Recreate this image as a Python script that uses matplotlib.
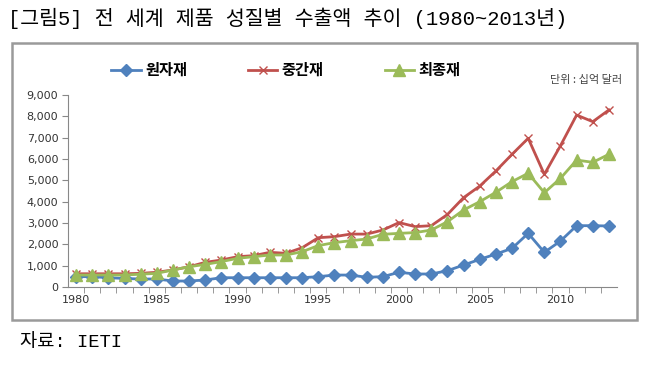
import matplotlib
matplotlib.use("Agg")
import matplotlib.pyplot as plt
from matplotlib.patches import Rectangle

plt.rcParams['font.family'] = ['Noto Sans CJK KR', 'DejaVu Sans']

# Data (십억 달러)
years = list(range(1980, 2014))
raw = [485, 485, 435, 400, 375, 375, 280, 280, 330, 435, 435, 435, 435, 435, 435, 485, 560,
       560, 455, 485, 690, 610, 610, 765, 1030, 1295, 1545, 1810, 2515, 1625, 2155, 2875, 2875, 2860]
inter = [620, 620, 620, 620, 640, 690, 800, 950, 1155, 1265, 1420, 1470, 1625, 1580, 1840, 2310, 2360,
         2480, 2480, 2670, 3020, 2830, 2875, 3400, 4190, 4730, 5440, 6220, 6970, 5280, 6625, 8060, 7750, 8300]
final = [560, 560, 560, 560, 600, 640, 800, 950, 1060, 1190, 1345, 1420, 1500, 1500, 1655, 1940, 2080,
         2170, 2250, 2470, 2515, 2550, 2670, 3060, 3610, 4000, 4440, 4940, 5330, 4420, 5095, 5950, 5845, 6220]
labels = ["원자재", "중간재", "최종재"]
yticks = list(range(0, 9001, 1000))
xlabels = [1980, 1985, 1990, 1995, 2000, 2005, 2010]

fig = plt.figure(figsize=(6.51, 3.65), dpi=100)

# outer frame
fig.patches.append(Rectangle((12 / 651, 1 - 320 / 365), 625 / 651, 277 / 365,
                             transform=fig.transFigure, fill=False, edgecolor="#9a9a9a", linewidth=1.8))

ax = fig.add_axes([68 / 651, 1 - 287 / 365, 549 / 651, 192 / 365])
ax.plot(years, raw, color="#4F81BD", marker="D", markersize=6, linewidth=2, label=labels[0])
ax.plot(years, inter, color="#C0504D", marker="x", markersize=6, markeredgewidth=1, linewidth=2, label=labels[1])
ax.plot(years, final, color="#9BBB59", marker="^", markersize=8, linewidth=2, label=labels[2])

ax.set_xlim(1979.5, 2013.5)
ax.set_ylim(0, 9000)
ax.set_yticks(yticks)
ax.set_yticklabels([f"{v:,}" for v in yticks], fontsize=8, family=["DejaVu Sans"], color="#333333")
ax.set_xticks(xlabels)
ax.set_xticklabels([str(v) for v in xlabels], fontsize=8, family=["DejaVu Sans"], color="#333333")
ax.set_xticks([y + 0.5 for y in years[:-1]], minor=True)
ax.tick_params(axis="x", which="major", length=0, pad=6)
ax.tick_params(axis="x", which="minor", length=4, color="#888888")
ax.tick_params(axis="y", length=4, color="#888888", pad=3)
for s in ["top", "right"]:
    ax.spines[s].set_visible(False)
ax.spines["left"].set_color("#888888")
ax.spines["bottom"].set_color("#888888")

fig.legend(loc="center", bbox_to_anchor=(286 / 651, 1 - 70 / 365), ncol=3, frameon=False,
           prop={"size": 11, "weight": "bold"}, handlelength=1.9, handletextpad=0.3, columnspacing=4.0)

title_font = ["Liberation Mono", "Noto Sans CJK KR"]
fig.text(8 / 651, 1 - 18 / 365, "[그림5] 전 세계 제품 성질별 수출액 추이 (1980~2013년)",
         fontsize=14.8, va="center", ha="left", family=title_font)
fig.text(622 / 651, 1 - 80 / 365, "단위 : 십억 달러", fontsize=8, color="#444444", ha="right", va="center")
fig.text(20 / 651, 1 - 343 / 365, "자료: IETI", fontsize=13.5, ha="left", va="center", family=title_font)

fig.savefig("out.png", dpi=100)
